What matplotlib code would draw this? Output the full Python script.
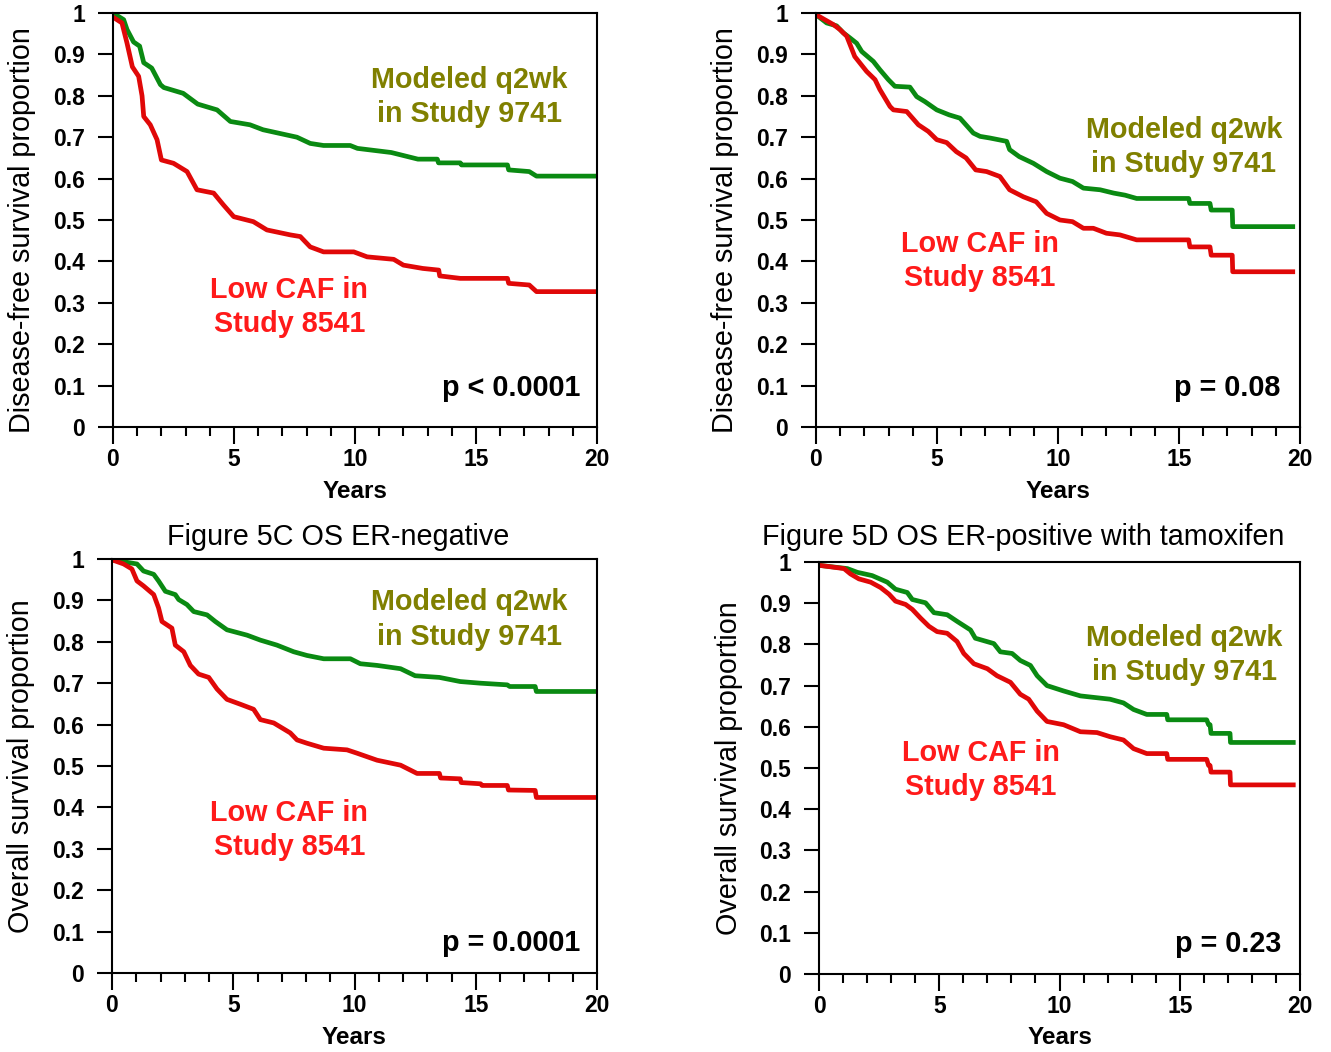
import matplotlib
matplotlib.use('Agg')
import matplotlib.pyplot as plt

plt.rcParams['font.family'] = ['Liberation Sans', 'DejaVu Sans']

# ---- data (years, survival proportion) ----
# Figure 5A : DFS ER-negative
a_green_t = [0, 0.44, 0.58, 0.85, 1.1, 1.27, 1.6, 1.96, 2.1, 2.9, 3.5, 4.3, 4.85, 5.66, 6.2, 7.6, 8.15, 8.7,
             9.8, 10.1, 11.5, 12.6, 13.4, 13.45, 14.35, 14.4, 16.3, 16.35, 17.2, 17.5, 20]
a_green_s = [1.0, 0.984, 0.96, 0.93, 0.92, 0.88, 0.867, 0.827, 0.82, 0.806, 0.78, 0.766, 0.738, 0.73, 0.718,
             0.70, 0.685, 0.68, 0.68, 0.673, 0.663, 0.647, 0.647, 0.638, 0.638, 0.633, 0.633, 0.621, 0.617,
             0.606, 0.606]
a_red_t = [0, 0.37, 0.58, 0.8, 1.06, 1.2, 1.27, 1.54, 1.82, 2.0, 2.5, 3.06, 3.47, 4.16, 4.57, 4.99, 5.8, 6.36,
           7.33, 7.74, 8.15, 8.7, 9.95, 10.5, 11.6, 12.0, 12.8, 13.46, 13.5, 14.35, 16.3, 16.35, 17.2, 17.5, 20]
a_red_s = [0.99, 0.976, 0.927, 0.87, 0.847, 0.80, 0.75, 0.73, 0.694, 0.645, 0.637, 0.617, 0.573, 0.565, 0.536,
           0.508, 0.496, 0.476, 0.464, 0.46, 0.435, 0.423, 0.423, 0.411, 0.405, 0.391, 0.383, 0.379, 0.365,
           0.359, 0.359, 0.347, 0.343, 0.327, 0.327]

# Figure 5B : DFS ER-positive with tamoxifen
b_green_t = [0, 0.44, 0.85, 1.13, 1.4, 1.68, 1.89, 2.37, 2.64, 2.99, 3.26, 3.88, 4.16, 4.5, 4.99, 5.5, 5.95,
             6.5, 6.78, 7.19, 7.88, 8.0, 8.4, 8.98, 9.53, 10.08, 10.6, 11.05, 11.74, 12.3, 12.77, 13.25,
             15.4, 15.45, 16.28, 16.33, 17.2, 17.22, 19.7]
b_green_s = [0.996, 0.976, 0.969, 0.952, 0.94, 0.927, 0.907, 0.883, 0.863, 0.839, 0.823, 0.821, 0.798, 0.786,
             0.766, 0.754, 0.746, 0.71, 0.702, 0.698, 0.69, 0.67, 0.653, 0.637, 0.617, 0.601, 0.593, 0.577,
             0.573, 0.565, 0.56, 0.552, 0.552, 0.54, 0.54, 0.524, 0.524, 0.484, 0.484]
b_red_t = [0, 0.72, 0.99, 1.27, 1.6, 2.09, 2.44, 2.64, 3.06, 3.2, 3.75, 4.23, 4.64, 4.99, 5.4, 5.8, 6.2, 6.6,
           7.05, 7.6, 8.0, 8.57, 9.1, 9.53, 10.08, 10.6, 11.05, 11.46, 12.0, 12.56, 13.25, 15.4, 15.45,
           16.28, 16.33, 17.2, 17.22, 19.7]
b_red_s = [0.996, 0.972, 0.96, 0.944, 0.895, 0.859, 0.839, 0.815, 0.774, 0.766, 0.762, 0.73, 0.714, 0.694,
           0.687, 0.665, 0.65, 0.621, 0.617, 0.605, 0.573, 0.556, 0.544, 0.516, 0.50, 0.496, 0.48, 0.48, 0.468,
           0.464, 0.452, 0.452, 0.435, 0.435, 0.415, 0.415, 0.375, 0.375]

# Figure 5C : OS ER-negative
c_green_t = [0, 0.62, 1.03, 1.3, 1.72, 1.92, 2.2, 2.61, 2.75, 3.09, 3.37, 3.92, 4.26, 4.74, 5.57, 6.12, 6.8,
             7.49, 8.04, 8.73, 9.83, 10.24, 10.93, 11.9, 12.5, 13.5, 14.36, 15.2, 16.3, 16.4, 17.45, 17.5, 20]
c_green_s = [0.998, 0.992, 0.988, 0.971, 0.963, 0.947, 0.922, 0.914, 0.902, 0.89, 0.873, 0.865, 0.849, 0.829,
             0.816, 0.804, 0.792, 0.776, 0.767, 0.759, 0.759, 0.747, 0.743, 0.735, 0.718, 0.714, 0.704, 0.70,
             0.696, 0.692, 0.692, 0.68, 0.68]
c_red_t = [0, 0.48, 0.82, 1.03, 1.3, 1.72, 1.92, 2.06, 2.47, 2.61, 2.96, 3.23, 3.57, 3.99, 4.33, 4.74, 5.3,
           5.84, 6.12, 6.67, 7.35, 7.63, 8.04, 8.73, 9.69, 10.1, 10.93, 11.9, 12.58, 13.5, 13.55, 14.36,
           14.4, 15.2, 15.26, 16.3, 16.35, 17.45, 17.5, 20]
c_red_s = [0.998, 0.988, 0.976, 0.947, 0.935, 0.914, 0.882, 0.849, 0.833, 0.792, 0.776, 0.743, 0.722, 0.714,
           0.686, 0.661, 0.649, 0.637, 0.612, 0.604, 0.58, 0.563, 0.555, 0.543, 0.539, 0.531, 0.514, 0.502,
           0.482, 0.482, 0.471, 0.469, 0.46, 0.457, 0.453, 0.453, 0.442, 0.441, 0.424, 0.424]

# Figure 5D : OS ER-positive with tamoxifen
d_green_t = [0, 1.18, 1.59, 2.21, 2.84, 3.18, 3.67, 3.88, 4.43, 4.78, 5.33, 5.74, 6.3, 6.5, 7.27, 7.54, 8.03,
             8.37, 8.79, 9.07, 9.48, 10.17, 10.87, 12.1, 12.66, 13.08, 13.63, 14.46, 14.5, 16.12, 16.2, 16.26,
             16.3, 17.09, 17.11, 19.72]
d_green_s = [0.992, 0.984, 0.975, 0.967, 0.951, 0.934, 0.926, 0.909, 0.901, 0.877, 0.872, 0.856, 0.835, 0.815,
             0.802, 0.782, 0.778, 0.761, 0.749, 0.724, 0.70, 0.687, 0.675, 0.667, 0.658, 0.642, 0.63, 0.63,
             0.617, 0.617, 0.605, 0.605, 0.584, 0.584, 0.562, 0.562]
d_red_t = [0, 1.04, 1.31, 1.66, 2.15, 2.56, 2.91, 3.18, 3.6, 3.88, 4.22, 4.57, 4.91, 5.33, 5.74, 6.02, 6.44,
           7.0, 7.4, 7.68, 7.96, 8.37, 8.72, 9.07, 9.48, 10.17, 10.87, 11.56, 12.1, 12.66, 13.08, 13.63,
           14.46, 14.5, 16.12, 16.2, 16.26, 16.3, 17.09, 17.11, 19.72]
d_red_s = [0.992, 0.984, 0.971, 0.959, 0.951, 0.938, 0.922, 0.905, 0.897, 0.885, 0.864, 0.844, 0.831, 0.827,
           0.807, 0.778, 0.753, 0.741, 0.724, 0.716, 0.708, 0.679, 0.667, 0.638, 0.613, 0.605, 0.588, 0.586,
           0.576, 0.568, 0.547, 0.535, 0.535, 0.521, 0.521, 0.506, 0.506, 0.49, 0.49, 0.459, 0.459]

titles = ['', '', 'Figure 5C OS ER-negative', 'Figure 5D OS ER-positive with tamoxifen']
ylabels = ['Disease-free survival proportion', 'Disease-free survival proportion',
           'Overall survival proportion', 'Overall survival proportion']
pvalues = ['p < 0.0001', 'p = 0.08', 'p = 0.0001', 'p = 0.23']
green_name = 'Modeled q2wk\nin Study 9741'
red_name = 'Low CAF in\nStudy 8541'
yticks = [0, 0.1, 0.2, 0.3, 0.4, 0.5, 0.6, 0.7, 0.8, 0.9, 1]
ytick_labels = ['0', '0.1', '0.2', '0.3', '0.4', '0.5', '0.6', '0.7', '0.8', '0.9', '1']
xticks = [0, 5, 10, 15, 20]

curves = [(a_green_t, a_green_s, a_red_t, a_red_s),
          (b_green_t, b_green_s, b_red_t, b_red_s),
          (c_green_t, c_green_s, c_red_t, c_red_s),
          (d_green_t, d_green_s, d_red_t, d_red_s)]

W, H = 1331, 1052
fig = plt.figure(figsize=(W / 100, H / 100), dpi=100)

# axes boxes in pixels: left, top, right, bottom
boxes = [(113, 13, 597, 427), (816, 13, 1300, 427), (112, 559, 597, 973), (819, 562, 1300, 974)]
# label positions (data coords) for green text, red text, p-value
green_pos = [(14.72, 0.797), (15.2, 0.677), (14.73, 0.854), (15.19, 0.775)]
red_pos = [(7.29, 0.29), (6.78, 0.401), (7.31, 0.345), (6.72, 0.496)]
p_pos = [(19.3, 0.094), (19.2, 0.094), (19.3, 0.072), (19.2, 0.072)]
ylab_y = [0.476, 0.476, 0.5, 0.5]
years_y = [-0.155, -0.155, -0.155, -0.155]
title_px = [None, None, (338, 545), (1023, 545)]

green = '#0a8a12'
red = '#e00808'

for i in range(4):
    l, t, r, b = boxes[i]
    ax = fig.add_axes([l / W, 1 - b / H, (r - l) / W, (b - t) / H])
    gt, gs, rt, rs = curves[i]
    ax.plot(gt, gs, color=green, lw=3.4)
    ax.plot(rt, rs, color=red, lw=3.4)
    ax.set_xlim(0, 20)
    ax.set_ylim(0, 1)
    ax.set_yticks(yticks)
    ax.set_yticklabels(ytick_labels, fontweight='bold', fontsize=16.5)
    ax.set_xticks(xticks)
    ax.set_xticklabels([str(x) for x in xticks], fontweight='bold', fontsize=16.5)
    ax.set_xticks(range(0, 21), minor=True)
    ax.tick_params(axis='y', which='major', direction='out', length=11, width=1.5, pad=9)
    ax.tick_params(axis='x', which='major', direction='out', length=12, width=1.5, pad=3)
    ax.tick_params(axis='x', which='minor', direction='out', length=6.5, width=1.5)
    for s in ax.spines.values():
        s.set_linewidth(1.5)
    ax.text(-0.187, ylab_y[i], ylabels[i], transform=ax.transAxes, rotation=90,
            ha='center', va='center', fontsize=20.7)
    ax.text(0.5, years_y[i], 'Years', transform=ax.transAxes, ha='center', va='center',
            fontsize=17.5, fontweight='bold')
    ax.text(green_pos[i][0], green_pos[i][1], green_name, ha='center', va='center',
            fontsize=20.7, fontweight='bold', color='#808000', linespacing=1.28)
    ax.text(red_pos[i][0], red_pos[i][1], red_name, ha='center', va='center',
            fontsize=20.7, fontweight='bold', color='#ff1a1a', linespacing=1.28)
    ax.text(p_pos[i][0], p_pos[i][1], pvalues[i], ha='right', va='center',
            fontsize=20.7, fontweight='bold', color='black')
    if title_px[i] is not None:
        fig.text(title_px[i][0] / W, 1 - title_px[i][1] / H, titles[i], ha='center', va='baseline',
                 fontsize=20.7)

plt.savefig('out.png', dpi=100)
